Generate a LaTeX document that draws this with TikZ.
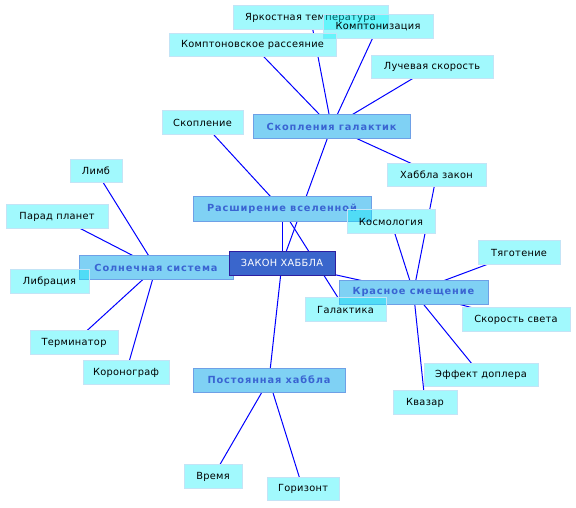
\documentclass[tikz,border=0pt]{standalone}
\usepackage{fontspec}
\setmainfont{DejaVu Sans}
\newfontfamily\leaffont[LetterSpace=3]{DejaVu Sans}
\newfontfamily\topicfont[LetterSpace=9]{DejaVu Sans}
\usetikzlibrary{backgrounds}
\pgfdeclarelayer{under}
\pgfsetlayers{background,under,main}
\definecolor{leaffill}{RGB}{0,240,250}
\definecolor{leafline}{RGB}{195,228,246}
\definecolor{topicfill}{RGB}{0,165,235}
\definecolor{topicline}{RGB}{110,160,230}
\definecolor{topictext}{RGB}{58,100,210}
\definecolor{corefill}{RGB}{58,102,204}
\definecolor{coreline}{RGB}{45,30,160}
\begin{document}
\begin{tikzpicture}[x=1pt, y=-1pt,
    leaf/.style={draw=leafline, line width=1pt, fill=leaffill, fill opacity=0.37, text opacity=1,
        minimum height=23.5pt, inner sep=0pt, font=\leaffont\fontsize{9.8}{11}\selectfont},
    topic/.style={draw=topicline, line width=1pt, fill=topicfill, fill opacity=0.5, text opacity=1,
        minimum height=24pt, inner sep=0pt, text=topictext, font=\topicfont\bfseries\fontsize{9.8}{11}\selectfont},
    core/.style={draw=coreline, line width=1pt, fill=corefill, text=white,
        minimum height=24pt, inner sep=0pt, font=\leaffont\fontsize{9.8}{11}\selectfont},
    link/.style={blue, line width=1pt}]
\useasboundingbox (0,0) rectangle (576,508);

% Topics
\node[topic, minimum width=157pt] (skgal) at (331.5,127) {Скопления галактик};
\node[topic, minimum width=178pt] (rassh) at (282,209) {Расширение вселенной};
\node[topic, minimum width=154pt] (solsys) at (156,267.5) {Солнечная система};
\node[topic, minimum width=149pt] (krasn) at (413.5,292) {Красное смещение};
\node[topic, minimum width=152pt] (postoyan) at (269,380) {Постоянная хаббла};

% Leaves
\node[leaf, minimum width=155pt] (yarkost) at (310.5,17.5) {Яркостная температура};
\node[leaf, minimum width=110pt] (kompton) at (378,26.5) {Комптонизация};
\node[leaf, minimum width=167pt] (komptras) at (252.5,45) {Комптоновское рассеяние};
\node[leaf, minimum width=122pt] (luch) at (432,67) {Лучевая скорость};
\node[leaf, minimum width=81pt] (skopl) at (202.5,122.5) {Скопление};
\node[leaf, minimum width=52pt] (limb) at (96,171) {Лимб};
\node[leaf, minimum width=102pt] (parad) at (57,216.5) {Парад планет};
\node[leaf, minimum width=79pt] (libr) at (49.5,281.5) {Либрация};
\node[leaf, minimum width=88pt] (termin) at (74,342.5) {Терминатор};
\node[leaf, minimum width=86pt] (korono) at (126,372.5) {Коронограф};
\node[leaf, minimum width=99pt] (hzakon) at (436.5,175) {Хаббла закон};
\node[leaf, minimum width=88pt] (kosmo) at (391,221.5) {Космология};
\node[leaf, minimum width=82pt] (tyag) at (519,252.5) {Тяготение};
\node[leaf, minimum width=81pt] (galakt) at (345.5,309.5) {Галактика};
\node[leaf, minimum width=108pt] (skorsv) at (516,319.5) {Скорость света};
\node[leaf, minimum width=114pt] (doppler) at (481,375) {Эффект доплера};
\node[leaf, minimum width=64pt] (kvazar) at (425,402.5) {Квазар};
\node[leaf, minimum width=58pt] (vremya) at (213,476.5) {Время};
\node[leaf, minimum width=72pt] (gorizont) at (303,489) {Горизонт};

% Centre
\node[core, minimum width=106pt] (zakon) at (282,263) {ЗАКОН ХАББЛА};

% White under the see-through boxes, so the links stay hidden
\begin{pgfonlayer}{under}
\foreach \n in {skgal, rassh, solsys, krasn, postoyan, yarkost, kompton, komptras, luch,
    skopl, limb, parad, libr, termin, korono, hzakon, kosmo, tyag, galakt, skorsv,
    doppler, kvazar, vremya, gorizont} {
    \fill[white] (\n.south west) rectangle (\n.north east);
}
\end{pgfonlayer}

% Links
\begin{pgfonlayer}{background}
\foreach \a/\b in {zakon/skgal, zakon/rassh, zakon/solsys, zakon/krasn, zakon/postoyan,
    skgal/yarkost, skgal/kompton, skgal/komptras, skgal/luch, skgal/hzakon,
    rassh/skopl, rassh/galakt,
    solsys/limb, solsys/parad, solsys/libr, solsys/termin, solsys/korono,
    krasn/hzakon, krasn/kosmo, krasn/tyag, krasn/skorsv, krasn/doppler, krasn/kvazar,
    postoyan/vremya, postoyan/gorizont} {
    \draw[link] (\a.center) -- (\b.center);
}
\end{pgfonlayer}
\end{tikzpicture}
\end{document}
